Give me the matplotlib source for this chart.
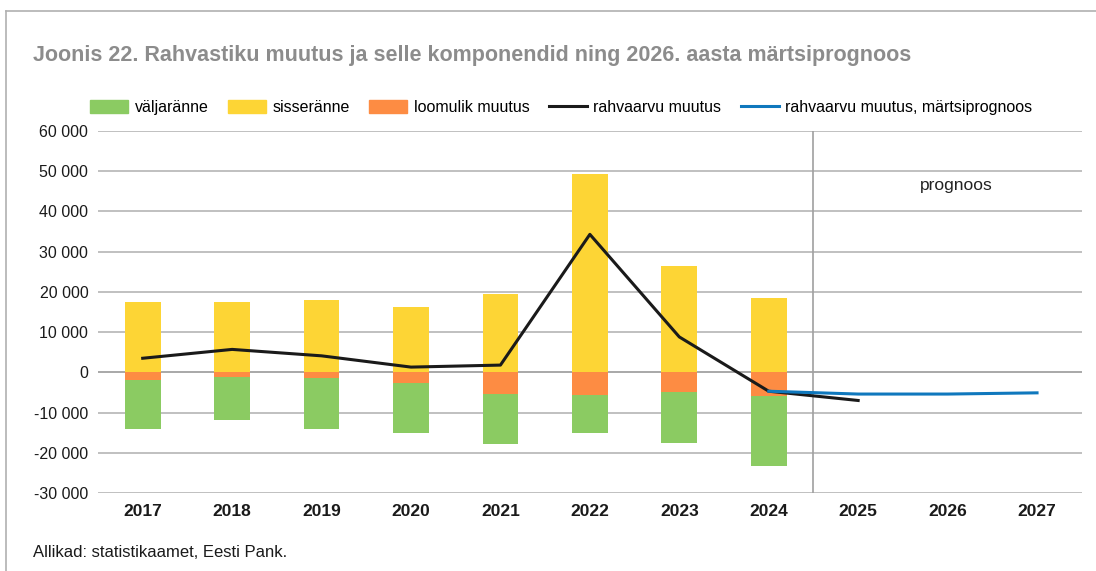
import matplotlib
matplotlib.use("Agg")
import matplotlib.pyplot as plt
from matplotlib.lines import Line2D
from matplotlib.patches import Patch
import numpy as np

plt.rcParams['font.family'] = ['Liberation Sans', 'DejaVu Sans']

years = ['2017', '2018', '2019', '2020', '2021', '2022', '2023', '2024', '2025', '2026', '2027']
hist_years = years[:8]
valjaranne = [-12300, -10700, -12800, -12400, -12500, -9500, -12600, -17400]
sisseranne = [17600, 17500, 18100, 16200, 19500, 49200, 26400, 18600]
loomulik = [-1800, -1200, -1300, -2600, -5300, -5700, -5000, -5900]
rahvaarvu = [3500, 5700, 4100, 1300, 1800, 34300, 8800, -4700, -7000]
prognoos_years = ['2024', '2025', '2026', '2027']
prognoos = [-4700, -5400, -5400, -5100]

yticks = [-30000, -20000, -10000, 0, 10000, 20000, 30000, 40000, 50000, 60000]
ytick_labels = ['-30 000', '-20 000', '-10 000', '0', '10 000', '20 000', '30 000', '40 000', '50 000', '60 000']

c_green = '#8bcb62'
c_yellow = '#fdd535'
c_orange = '#fd8c43'
c_black = '#1a1a1a'
c_blue = '#0f78bd'

fig = plt.figure(figsize=(10.96, 5.71), dpi=100)
ax = fig.add_axes([0.0894, 0.1366, 0.8976, 0.634])

x = np.arange(len(years))
xh = np.arange(len(hist_years))
w = 0.4
ax.bar(xh, sisseranne, w, color=c_yellow, zorder=2)
ax.bar(xh, loomulik, w, color=c_orange, zorder=2)
ax.bar(xh, valjaranne, w, bottom=loomulik, color=c_green, zorder=2)

ax.plot(np.arange(len(rahvaarvu)), rahvaarvu, color=c_black, lw=2.2, zorder=3)
px = [years.index(y) for y in prognoos_years]
ax.plot(px, prognoos, color=c_blue, lw=2.2, zorder=4)

ax.axvline(7.5, color='#a0a0a0', lw=1.2, zorder=1)
ax.text(9.1, 46500, 'prognoos', ha='center', va='center', fontsize=12.5, color='#222222')

ax.set_xlim(-0.5, len(years) - 0.5)
ax.set_ylim(-30000, 60000)
ax.set_yticks(yticks)
ax.set_yticklabels(ytick_labels, fontsize=11.5, color='#1a1a1a')
ax.set_xticks(x)
ax.set_xticklabels(years, fontsize=12.5, fontweight='bold', color='#1a1a1a')
ax.tick_params(axis='both', length=0)
ax.tick_params(axis='y', pad=7)
ax.tick_params(axis='x', pad=8)
for s in ax.spines.values():
    s.set_visible(False)
for yv in yticks:
    ax.axhline(yv, color='#b5b5b5' if yv != 0 else '#9a9a9a', lw=1.2, zorder=0)

handles = [Patch(color=c_green, label='väljaränne'),
           Patch(color=c_yellow, label='sisseränne'),
           Patch(color=c_orange, label='loomulik muutus'),
           Line2D([0], [0], color=c_black, lw=2.2, label='rahvaarvu muutus'),
           Line2D([0], [0], color=c_blue, lw=2.2, label='rahvaarvu muutus, märtsiprognoos')]
fig.legend(handles=handles, loc='center', bbox_to_anchor=(0.512, 0.812), ncol=5,
           frameon=False, fontsize=11.5, handlelength=2.4, handleheight=0.9,
           columnspacing=1.2, handletextpad=0.4)

fig.text(0.030, 0.902, 'Joonis 22. Rahvastiku muutus ja selle komponendid ning 2026. aasta märtsiprognoos',
         fontsize=15.5, fontweight='bold', color='#8c8c8c', va='center')
fig.text(0.030, 0.033, 'Allikad: statistikaamet, Eesti Pank.', fontsize=12, color='#1a1a1a', va='center')

# outer frame (left and top)
fig.add_artist(Line2D([0.0055, 0.0055], [0, 0.981], color='#b0b0b0', lw=1.2, transform=fig.transFigure))
fig.add_artist(Line2D([0.0055, 1.0], [0.981, 0.981], color='#b0b0b0', lw=1.2, transform=fig.transFigure))

fig.savefig('out.png', dpi=100)
